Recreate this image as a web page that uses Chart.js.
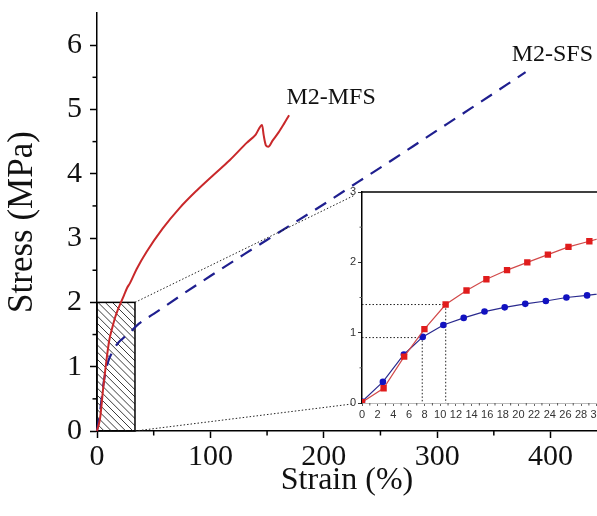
<!DOCTYPE html>
<html><head><meta charset="utf-8">
<script src="https://cdn.jsdelivr.net/npm/chart.js@4.4.1/dist/chart.umd.min.js"></script>
<style>
html,body{margin:0;padding:0;background:#fff;overflow:hidden;width:597px;height:516px;}
#wrap{position:relative;width:597px;height:516px;overflow:hidden;}
#main{position:absolute;left:0;top:0;}
#inset{position:absolute;left:330px;top:175px;}
</style></head><body>
<div id="wrap">
<canvas id="main" width="597" height="516"></canvas>
<canvas id="inset" width="290" height="250"></canvas>
</div>
<script>
// ---------- main chart data ----------
const mfsStrain = [0,2.8,5.4,8,10.7,13.4,15.9,18.5,21.1,23.8,26.4,29.1,35,43.5,58,73,88,102,117,132,140,145.6,147,149,151,155,160,165,169.4];
const mfsStress = [0,0.21,0.66,1.05,1.40,1.60,1.76,1.89,2.00,2.11,2.22,2.30,2.52,2.78,3.15,3.47,3.74,3.97,4.21,4.48,4.61,4.76,4.60,4.44,4.42,4.52,4.64,4.78,4.91];
const sfsStrain = [0,2.7,5.35,7.76,10.4,13,15.66,18.24,20.87,23.5,26.13,28.77,37,50,75,100,130,157,203,230,260,291,330,378];
const sfsStress = [0,0.30,0.69,0.94,1.11,1.21,1.30,1.36,1.41,1.45,1.50,1.53,1.67,1.82,2.12,2.41,2.75,3.05,3.56,3.87,4.21,4.57,5.02,5.58];
const xTicks = [0,100,200,300,400];
const xMinor = [50,150,250,350];
const yTicks = [0,1,2,3,4,5,6];
const yMinor = [0.5,1.5,2.5,3.5,4.5,5.5];
const zoomBoxStrain = [0,33.5];
const zoomBoxStress = [0,2];
const seriesLabels = ['M2-MFS','M2-SFS'];
const labelStrain = [206.5,401.6];
const labelStress = [5.19,5.85];

// ---------- inset data ----------
const insMfsStrain = [0,2.76,5.39,7.98,10.69,13.36,15.9,18.54,21.13,23.76,26.39,29.06,31.7];
const insMfsStress = [0.01,0.21,0.66,1.05,1.40,1.60,1.76,1.89,2.00,2.11,2.22,2.30,2.38];
const insSfsStrain = [0,2.67,5.35,7.76,10.4,13.0,15.66,18.24,20.87,23.5,26.13,28.77,31.4];
const insSfsStress = [0.02,0.30,0.69,0.94,1.11,1.21,1.30,1.36,1.41,1.45,1.50,1.53,1.57];
const guideA_x = [0,10.7,10.7];
const guideA_y = [1.40,1.40,0];
const guideB_x = [0,7.7,7.7];
const guideB_y = [0.93,0.93,0];
const insXTicks = [0,2,4,6,8,10,12,14,16,18,20,22,24,26,28,30];
const insXMinor = [1,3,5,7,9,11,13,15,17,19,21,23,25,27,29];
const insYTicks = [0,1,2,3];
const insYMinor = [0.5,1.5,2.5];

const toXY = (xs, ys) => xs.map((x,i)=>({x:x, y:ys[i]}));
const serif = "'Liberation Serif','Times New Roman',serif";
const sans = "'Liberation Sans',Arial,sans-serif";

const minorTicks = {
  id:'minorTicks',
  afterDraw(chart, args, o){
    const ctx = chart.ctx, xs = chart.scales.x, ys = chart.scales.y;
    ctx.save();
    ctx.strokeStyle = o.color; ctx.lineWidth = o.width;
    o.x.forEach(v=>{const p = xs.getPixelForValue(v); ctx.beginPath(); ctx.moveTo(p, xs.top); ctx.lineTo(p, xs.top + o.len); ctx.stroke();});
    o.y.forEach(v=>{const p = ys.getPixelForValue(v); ctx.beginPath(); ctx.moveTo(ys.right, p); ctx.lineTo(ys.right - o.len, p); ctx.stroke();});
    ctx.restore();
  }
};

// ---------- inset chart ----------
const insetFrame = {
  id:'insetFrame',
  beforeDraw(chart){
    const a = chart.chartArea, ctx = chart.ctx;
    ctx.save(); ctx.fillStyle='#fff'; ctx.fillRect(a.left, a.top, a.right-a.left+40, a.bottom-a.top); ctx.restore();
  },
  afterDraw(chart){
    const a = chart.chartArea, ctx = chart.ctx;
    ctx.save(); ctx.strokeStyle='#000'; ctx.lineWidth=1.5;
    ctx.beginPath(); ctx.moveTo(a.left, a.top); ctx.lineTo(chart.width, a.top); ctx.stroke();
    ctx.restore();
  }
};

const insetChart = new Chart(document.getElementById('inset'), {
  type:'scatter',
  data:{datasets:[
    {data:toXY(guideA_x,guideA_y), showLine:true, borderColor:'#222', borderWidth:1, borderDash:[1.5,2], pointRadius:0, order:3},
    {data:toXY(guideB_x,guideB_y), showLine:true, borderColor:'#222', borderWidth:1, borderDash:[1.5,2], pointRadius:0, order:3},
    {data:toXY(insMfsStrain,insMfsStress), showLine:true, borderColor:'#d24a4a', borderWidth:1.2, pointStyle:'rect', pointRadius:4.5, pointBackgroundColor:'#e01c1c', pointBorderColor:'#e01c1c', pointBorderWidth:0, order:1},
    {data:toXY(insSfsStrain,insSfsStress), showLine:true, borderColor:'#2a2a8e', borderWidth:1.2, pointStyle:'circle', pointRadius:3.3, pointBackgroundColor:'#1212c0', pointBorderColor:'#1212c0', pointBorderWidth:0, order:2}
  ]},
  options:{
    responsive:false, animation:false, devicePixelRatio:1,
    layout:{padding:{top:17, right:23.3, left:0, bottom:0}},
    plugins:{legend:{display:false}, tooltip:{enabled:false},
      minorTicks:{x:insXMinor, y:insYMinor, len:2.5, width:1, color:'#555'}},
    scales:{
      x:{type:'linear', min:0, max:30,
        afterBuildTicks:s=>{s.ticks = insXTicks.map(v=>({value:v}));},
        afterFit:s=>{s.height = 22;},
        border:{display:true, color:'#bbb', width:1},
        grid:{drawOnChartArea:false, drawTicks:true, tickLength:3, tickColor:'#666', tickWidth:1},
        ticks:{font:{family:sans, size:11}, color:'#333', padding:2, maxRotation:0, autoSkip:false}},
      y:{type:'linear', min:0, max:3,
        afterBuildTicks:s=>{s.ticks = insYTicks.map(v=>({value:v}));},
        afterFit:s=>{s.width = 32;},
        border:{display:true, color:'#000', width:1.5},
        grid:{drawOnChartArea:false, drawTicks:true, tickLength:4, tickColor:'#333', tickWidth:1},
        ticks:{font:{family:sans, size:11, lineHeight:0.5}, color:'#333', padding:2}}
    }
  },
  plugins:[insetFrame, minorTicks]
});

// ---------- main chart ----------
const insetLeft = 330, insetTop = 175;
const zoomBox = {
  id:'zoomBox',
  beforeDatasetsDraw(chart){
    const ctx = chart.ctx, xs = chart.scales.x, ys = chart.scales.y;
    const x0 = xs.getPixelForValue(zoomBoxStrain[0]), x1 = xs.getPixelForValue(zoomBoxStrain[1]);
    const y0 = ys.getPixelForValue(zoomBoxStress[0]), y1 = ys.getPixelForValue(zoomBoxStress[1]);
    const h = y0 - y1;
    ctx.save();
    ctx.beginPath(); ctx.rect(x0, y1, x1-x0, h); ctx.clip();
    ctx.strokeStyle='#3a3a3a'; ctx.lineWidth=1;
    ctx.beginPath();
    for (let k = -h; k < (x1-x0)+2; k += 7.2){ ctx.moveTo(x0+k, y1); ctx.lineTo(x0+k+h, y0); }
    ctx.stroke();
    ctx.restore();
    ctx.save(); ctx.strokeStyle='#000'; ctx.lineWidth=1.5;
    ctx.strokeRect(x0, y1, x1-x0, h);
    ctx.restore();
  },
  afterDraw(chart){
    const ctx = chart.ctx, xs = chart.scales.x, ys = chart.scales.y;
    const x1 = xs.getPixelForValue(zoomBoxStrain[1]);
    const y0 = ys.getPixelForValue(zoomBoxStress[0]), y1 = ys.getPixelForValue(zoomBoxStress[1]);
    const a = insetChart.chartArea;
    ctx.save(); ctx.strokeStyle='#222'; ctx.lineWidth=1; ctx.setLineDash([1.5,2]);
    ctx.beginPath(); ctx.moveTo(x1, y1); ctx.lineTo(insetLeft + a.left - 7, insetTop + a.top + 3); ctx.stroke();
    ctx.beginPath(); ctx.moveTo(x1, y0); ctx.lineTo(insetLeft + a.left - 10, insetTop + a.bottom + 1); ctx.stroke();
    ctx.restore();
  },
  afterDatasetsDraw(chart){
    const ctx = chart.ctx, xs = chart.scales.x, ys = chart.scales.y;
    ctx.save(); ctx.fillStyle='#111'; ctx.font = "24px " + serif; ctx.textAlign='center'; ctx.textBaseline='middle';
    seriesLabels.forEach((t,i)=>{ ctx.fillText(t, xs.getPixelForValue(labelStrain[i]), ys.getPixelForValue(labelStress[i])); });
    ctx.restore();
  }
};

new Chart(document.getElementById('main'), {
  type:'scatter',
  data:{datasets:[
    {label:seriesLabels[0], data:toXY(mfsStrain,mfsStress), showLine:true, borderColor:'#c9282a', borderWidth:2, pointRadius:0, cubicInterpolationMode:'monotone', clip:false},
    {label:seriesLabels[1], data:toXY(sfsStrain,sfsStress), showLine:true, borderColor:'#1f1f8f', borderWidth:2.2, borderDash:[13,9], pointRadius:0, cubicInterpolationMode:'monotone', clip:false}
  ]},
  options:{
    responsive:false, animation:false, devicePixelRatio:1,
    layout:{padding:{top:13, right:0, left:0, bottom:0}},
    plugins:{legend:{display:false}, tooltip:{enabled:false},
      minorTicks:{x:xMinor, y:yMinor, len:4.5, width:1.5, color:'#000'}},
    scales:{
      x:{type:'linear', min:0, max:441,
        afterBuildTicks:s=>{s.ticks = xTicks.map(v=>({value:v}));},
        afterFit:s=>{s.height = 85;},
        border:{display:true, color:'#000', width:1.5},
        grid:{drawOnChartArea:false, drawTicks:true, tickLength:7, tickColor:'#000', tickWidth:1.5},
        ticks:{font:{family:serif, size:30}, color:'#111', padding:1, maxRotation:0, autoSkip:false},
        title:{display:true, text:'Strain (%)', font:{family:serif, size:32}, color:'#111', padding:{top:0, bottom:16}}},
      y:{type:'linear', min:0, max:6.5,
        afterBuildTicks:s=>{s.ticks = yTicks.map(v=>({value:v}));},
        afterFit:s=>{s.width = 97;},
        border:{display:true, color:'#000', width:1.5},
        grid:{drawOnChartArea:false, drawTicks:true, tickLength:7, tickColor:'#000', tickWidth:1.5},
        ticks:{font:{family:serif, size:30, lineHeight:0.3}, color:'#111', padding:8},
        title:{display:true, text:'Stress (MPa)', font:{family:serif, size:35, lineHeight:1.2}, color:'#111', padding:{top:2, bottom:0}}}
    }
  },
  plugins:[zoomBox, minorTicks]
});
</script>
</body></html>
